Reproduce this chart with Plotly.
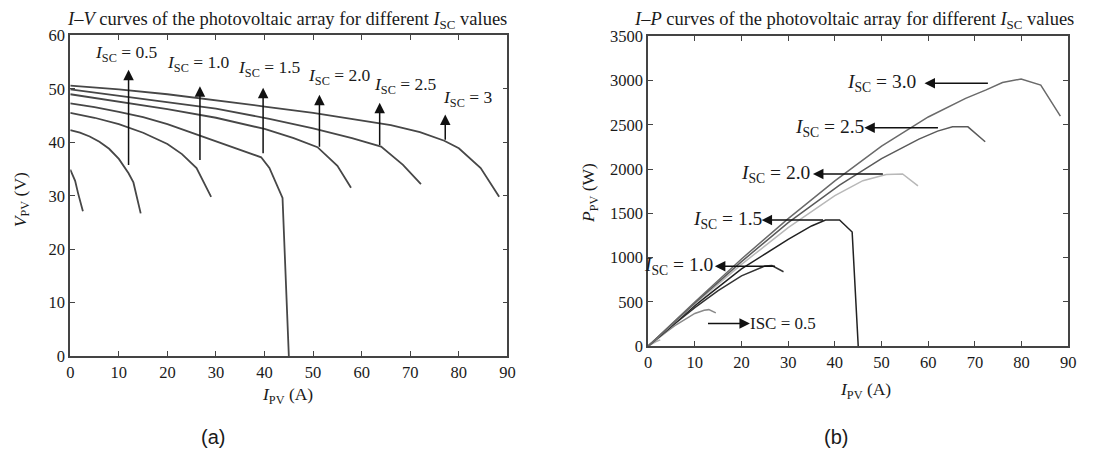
import plotly.graph_objects as go

# ---------------- data: I-V curves (left panel) ----------------
iv_A_i = [0, 0.5, 1, 1.6, 2.6]
iv_A_v = [34.9, 34.0, 32.8, 30.5, 27.1]
iv_B_i = [0, 2, 4, 6, 8, 10, 12, 13, 14.5]
iv_B_v = [42.3, 41.8, 41.1, 40.1, 38.8, 36.9, 34.2, 32.5, 26.7]
iv_C_i = [0, 5, 10, 15, 20, 23, 26, 28, 29]
iv_C_v = [45.5, 44.6, 43.4, 41.8, 39.7, 37.8, 35.2, 31.4, 29.8]
iv_D_i = [0, 5, 10, 15, 20, 25, 30, 35, 39.3, 41, 43.7, 45]
iv_D_v = [47.3, 46.6, 45.7, 44.7, 43.4, 41.8, 40.2, 38.6, 37.2, 35.2, 29.6, 0]
iv_E_i = [0, 10, 20, 30, 40, 46, 50.9, 55, 57.8]
iv_E_v = [49.0, 47.6, 46.2, 44.6, 42.5, 40.8, 39.1, 35.6, 31.5]
iv_F_i = [0, 10, 20, 30, 41, 50, 58, 64, 68.5, 72.2]
iv_F_v = [49.9, 48.7, 47.6, 46.3, 44.4, 42.6, 40.8, 39.2, 35.8, 32.2]
iv_G_i = [0, 10, 20, 30, 40, 50, 60, 66, 72, 77, 80, 84.5, 88.3]
iv_G_v = [50.6, 49.9, 49.0, 47.9, 46.7, 45.5, 44.0, 43.2, 41.9, 40.3, 38.9, 35.2, 29.8]

# ---------------- data: I-P curves (right panel) ----------------
ip_A_i = [0, 1, 1.6, 2.6]
ip_A_p = [0, 33, 49, 70]
ip_05_i = [0, 2, 4, 6, 8, 10, 12, 13, 14.5]
ip_05_p = [0, 84, 164, 241, 310, 369, 405, 412, 375]
ip_10_i = [0, 5, 10, 15, 20, 23, 25, 26.5, 29]
ip_10_p = [0, 223, 434, 627, 794, 860, 905, 910, 840]
ip_15_i = [0, 10, 20, 30, 35, 38, 41, 43.7, 45]
ip_15_p = [0, 458, 872, 1206, 1358, 1425, 1425, 1290, 0]
ip_20_i = [0, 10, 20, 30, 40, 46, 51, 54.5, 57.8]
ip_20_p = [0, 476, 924, 1338, 1700, 1870, 1940, 1945, 1810]
ip_25_i = [0, 10, 20, 30, 41, 50, 58, 62, 65.2, 68.5, 72.2]
ip_25_p = [0, 487, 955, 1395, 1820, 2120, 2340, 2430, 2480, 2478, 2310]
ip_30_i = [0, 10, 20, 30, 40, 50, 60, 68, 72.4, 75.9, 79.9, 84.1, 88.3]
ip_30_p = [0, 499, 985, 1440, 1868, 2260, 2590, 2800, 2896, 2980, 3020, 2950, 2600]

# ---------------- annotation data ----------------
left_arrow_x = [12.0, 26.7, 39.7, 51.3, 63.7, 77.2]
left_arrow_y0 = [35.5, 36.4, 37.7, 38.9, 39.2, 40.2]
left_arrow_y1 = [53.6, 50.5, 50.2, 48.9, 47.4, 45.2]
left_label_x = [11.6, 26.3, 41.0, 55.4, 69.1, 81.8]
left_label_y = [56.6, 54.8, 53.8, 52.3, 50.6, 48.2]
left_label_txt = ["0.5", "1.0", "1.5", "2.0", "2.5", "3"]

right_arrow_tail = [73.1, 62.4, 50.6, 37.8, 27.5]
right_arrow_head = [59.2, 46.3, 35.3, 24.3, 14.3]
right_arrow_p = [2972, 2469, 1945, 1424, 903]
right_label_x = [50.0, 38.9, 27.2, 16.9, 6.4]
right_label_txt = ["3.0", "2.5", "2.0", "1.5", "1.0"]

W, H = 1096, 452
SERIF = "Liberation Serif"
INK = "#1a1a1a"


def px(r):
    # horizontal layout pixel for a wanted on-screen pixel
    return (r - 2.6) / 0.991 / W


def py(r):
    # vertical layout position (paper, from bottom) for a wanted on-screen pixel
    return 1 - (r - 9.6) / 0.956 / H


fig = go.Figure()

for xi, yi in [(iv_A_i, iv_A_v), (iv_B_i, iv_B_v), (iv_C_i, iv_C_v), (iv_D_i, iv_D_v),
               (iv_E_i, iv_E_v), (iv_F_i, iv_F_v), (iv_G_i, iv_G_v)]:
    fig.add_trace(go.Scatter(x=xi, y=yi, mode="lines", line=dict(color="#474747", width=1.8),
                             xaxis="x", yaxis="y", showlegend=False, hoverinfo="skip"))

for xi, yi, col in [(ip_A_i, ip_A_p, "#aaaaaa"), (ip_05_i, ip_05_p, "#8a8a8a"),
                    (ip_10_i, ip_10_p, "#333333"), (ip_15_i, ip_15_p, "#222222"),
                    (ip_20_i, ip_20_p, "#b8b8b8"), (ip_25_i, ip_25_p, "#5a5a5a"),
                    (ip_30_i, ip_30_p, "#6a6a6a")]:
    fig.add_trace(go.Scatter(x=xi, y=yi, mode="lines", line=dict(color=col, width=1.5),
                             xaxis="x2", yaxis="y2", showlegend=False, hoverinfo="skip"))


def txt(x, y, text, size, xref="paper", yref="paper", angle=0, family=SERIF):
    return dict(x=x, y=y, xref=xref, yref=yref, showarrow=False, text=text,
                xanchor="center", yanchor="middle", textangle=angle,
                font=dict(family=family, size=size, color=INK))


ann = []
for x, y0, y1 in zip(left_arrow_x, left_arrow_y0, left_arrow_y1):
    ann.append(dict(x=x, y=y1, ax=x, ay=y0, xref="x", yref="y", axref="x", ayref="y",
                    text="", showarrow=True, arrowhead=2, arrowsize=1.4, arrowwidth=1.5,
                    arrowcolor="#111111"))
for x, y, t in zip(left_label_x, left_label_y, left_label_txt):
    ann.append(txt(x, y, "<i>I</i><sub>SC</sub> = " + t, 17.5, "x", "y"))

for xt, xh, p in zip(right_arrow_tail, right_arrow_head, right_arrow_p):
    ann.append(dict(x=xh, y=p, ax=xt, ay=p, xref="x2", yref="y2", axref="x2", ayref="y2",
                    text="", showarrow=True, arrowhead=2, arrowsize=1.4, arrowwidth=1.5,
                    arrowcolor="#111111"))
for x, t, p in zip(right_label_x, right_label_txt, right_arrow_p):
    ann.append(txt(x, p, "<i>I</i><sub>SC</sub> = " + t, 19.5, "x2", "y2"))
# ISC = 0.5 arrow pointing right
ann.append(dict(x=21.8, y=254, ax=12.5, ay=254, xref="x2", yref="y2", axref="x2", ayref="y2",
                text="", showarrow=True, arrowhead=2, arrowsize=1.4, arrowwidth=1.5,
                arrowcolor="#111111"))
ann.append(txt(28.8, 254, "ISC = 0.5", 17, "x2", "y2"))

# titles
ann.append(txt(px(286), py(21),
               "<i>I–V</i> curves of the photovoltaic array for different <i>I</i><sub>SC</sub> values", 18.5))
ann.append(txt(px(854), py(21),
               "<i>I–P</i> curves of the photovoltaic array for different <i>I</i><sub>SC</sub> values", 18.5))
# axis titles
ann.append(txt(px(287), py(395), "<i>I</i><sub>PV</sub> (A)", 17.5))
ann.append(txt(px(866), py(390), "<i>I</i><sub>PV</sub> (A)", 17.5))
ann.append(txt(px(20), py(200), "<i>V</i><sub>PV</sub> (V)", 17.5, angle=-90))
ann.append(txt(px(590), py(193), "<i>P</i><sub>PV</sub> (W)", 17.5, angle=-90))
# panel letters
ann.append(txt(px(212), py(437), "(a)", 20, family="Liberation Sans"))
ann.append(txt(px(836), py(437), "(b)", 20, family="Liberation Sans"))

axis_common = dict(showline=True, mirror="ticks", ticks="inside", ticklen=5, tickwidth=1.3,
                   linecolor="#444444", linewidth=1.8, tickcolor="#444444", showgrid=False,
                   zeroline=False, tickfont=dict(family=SERIF, size=16.5, color=INK))

fig.update_layout(
    width=W, height=H, margin=dict(l=0, r=0, t=0, b=0),
    paper_bgcolor="white", plot_bgcolor="white", showlegend=False,
    xaxis=dict(domain=[px(69), px(507)], range=[0, 90], dtick=10, anchor="y", **axis_common),
    yaxis=dict(domain=[py(356), py(36)], range=[0, 60], dtick=10, anchor="x", **axis_common),
    xaxis2=dict(domain=[px(648), px(1069)], range=[0, 90], dtick=10, anchor="y2", **axis_common),
    yaxis2=dict(domain=[py(346), py(37)], range=[0, 3500], dtick=500, anchor="x2", **axis_common),
    annotations=ann,
)

fig.write_html("out.html", config={"displayModeBar": False},
               post_script="document.body.style.margin='0';")
